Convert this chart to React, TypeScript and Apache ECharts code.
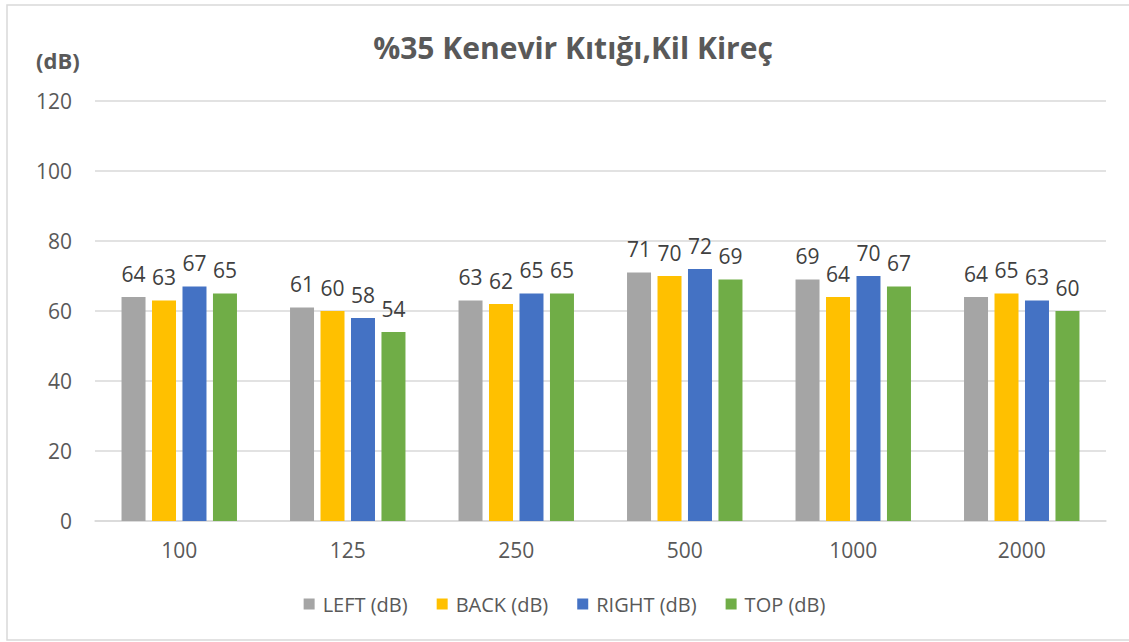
import React, { useEffect, useRef } from "react";
import * as echarts from "echarts";

const categories = ["100", "125", "250", "500", "1000", "2000"];
const seriesNames = ["LEFT (dB)", "BACK (dB)", "RIGHT (dB)", "TOP (dB)"];
const leftValues = [64, 61, 63, 71, 69, 64];
const backValues = [63, 60, 62, 70, 64, 65];
const rightValues = [67, 58, 65, 72, 70, 63];
const topValues = [65, 54, 65, 69, 67, 60];
const colors = ["#A5A5A5", "#FFC000", "#4472C4", "#70AD47"];
const titleText = "%35 Kenevir Kıtığı,Kil Kireç";
const unitText = "(dB)";

const FONT = "'Open Sans', sans-serif";

export default function App() {
  const ref = useRef<HTMLDivElement>(null);
  useEffect(() => {
    if (!ref.current) return;
    const chart = echarts.init(ref.current, null, { renderer: "svg" });
    const all = [leftValues, backValues, rightValues, topValues];
    chart.setOption({
      animation: false,
      backgroundColor: "#ffffff",
      textStyle: { fontFamily: FONT },
      title: {
        text: titleText,
        left: 568,
        textAlign: "center",
        top: 27,
        textStyle: { fontFamily: FONT, fontSize: 30, fontWeight: "bold", color: "#595959" },
      },
      graphic: [
        {
          type: "rect",
          shape: { x: 7, y: 5, width: 1140, height: 635 },
          style: { fill: "none", stroke: "#d9d9d9", lineWidth: 1.5 },
          silent: true,
        },
        {
          type: "text",
          x: 36,
          y: 60,
          style: {
            text: unitText,
            fontFamily: FONT,
            fontSize: 22,
            fontWeight: "bold",
            fill: "#595959",
            verticalAlign: "middle",
          },
        },
      ],
      legend: {
        data: seriesNames,
        bottom: 23,
        left: "center",
        itemWidth: 11,
        itemHeight: 11,
        itemGap: 29,
        icon: "rect",
        textStyle: { fontFamily: FONT, fontSize: 20, color: "#595959", padding: [0, 0, 0, 3] },
      },
      grid: { left: 95, right: 23, top: 101, bottom: 121 },
      xAxis: {
        type: "category",
        data: categories,
        axisLine: { lineStyle: { color: "#d9d9d9", width: 1.5 } },
        axisTick: { show: false },
        axisLabel: { fontFamily: FONT, fontSize: 21, color: "#595959", margin: 18 },
      },
      yAxis: {
        type: "value",
        min: 0,
        max: 120,
        interval: 20,
        axisLine: { show: false },
        axisTick: { show: false },
        axisLabel: { fontFamily: FONT, fontSize: 21, color: "#595959", margin: 23 },
        splitLine: { lineStyle: { color: "#d9d9d9", width: 1.5 } },
      },
      series: seriesNames.map((name, i) => ({
        name,
        type: "bar",
        data: all[i],
        barWidth: 24,
        barGap: "27%",
        itemStyle: { color: colors[i] },
        label: {
          show: true,
          position: "top",
          distance: 13,
          fontFamily: FONT,
          fontSize: 21,
          color: "#404040",
        },
      })),
    });
    return () => chart.dispose();
  }, []);
  return (
    <div
      ref={ref}
      style={{ position: "fixed", left: 0, top: 0, width: 1129, height: 642 }}
    />
  );
}
